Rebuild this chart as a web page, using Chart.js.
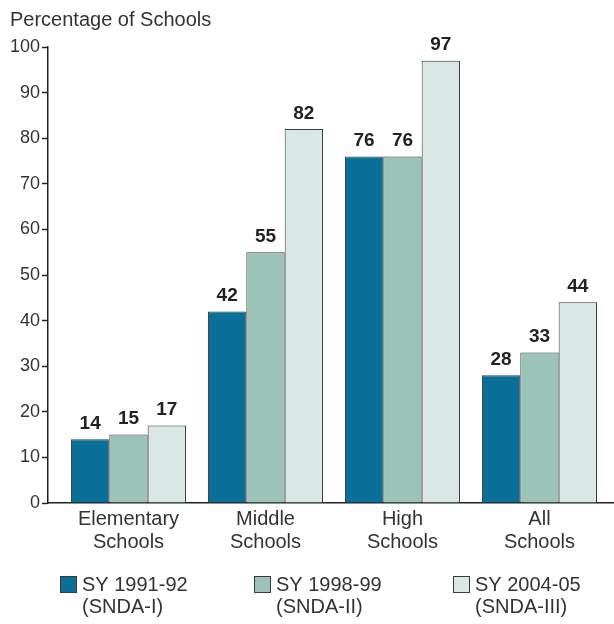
<!DOCTYPE html>
<html>
<head>
<meta charset="utf-8">
<script src="https://cdn.jsdelivr.net/npm/chart.js@4/dist/chart.umd.min.js"></script>
<style>
  html, body { margin: 0; padding: 0; background: #fff; }
  #wrap { width: 614px; height: 624px; position: relative; }
</style>
</head>
<body>
<div id="wrap"><canvas id="schoolsChart" width="614" height="624"></canvas></div>
<script>
// Données du graphique
const categories = [['Elementary', 'Schools'], ['Middle', 'Schools'], ['High', 'Schools'], ['All', 'Schools']];
const seriesNames = [['SY 1991-92', '(SNDA-I)'], ['SY 1998-99', '(SNDA-II)'], ['SY 2004-05', '(SNDA-III)']];
const snda1 = [14, 42, 76, 28];
const snda2 = [15, 55, 76, 33];
const snda3 = [17, 82, 97, 44];
const yTicks = [0, 10, 20, 30, 40, 50, 60, 70, 80, 90, 100];
const yTitle = 'Percentage of Schools';

const colors = ['#0b7099', '#9cc3b8', '#dae8e5'];
const FONT = '"Liberation Sans", Arial, Helvetica, sans-serif';

// Construction des jeux de données (x = index de catégorie)
const datasets = [snda1, snda2, snda3].map((values, i) => ({
    label: seriesNames[i].join(' '),
    data: values.map((v, j) => ({ x: j, y: v })),
    backgroundColor: colors[i],
    borderColor: '#3a3a3a',
    borderWidth: 1,
    barPercentage: 1,
    categoryPercentage: 0.84
}));

// Étiquettes de valeur au-dessus des barres
const valueLabels = {
    id: 'valueLabels',
    afterDatasetsDraw(chart) {
        const ctx = chart.ctx;
        ctx.save();
        ctx.font = 'bold 19px ' + FONT;
        ctx.fillStyle = '#222';
        ctx.textAlign = 'center';
        ctx.textBaseline = 'bottom';
        chart.data.datasets.forEach((ds, i) => {
            chart.getDatasetMeta(i).data.forEach((bar, j) => {
                ctx.fillText(String(ds.data[j].y), bar.x, bar.y - 6);
            });
        });
        ctx.restore();
    }
};

// Titre de l'axe y et légende sur deux lignes
const extras = {
    id: 'extras',
    afterDraw(chart) {
        const ctx = chart.ctx;
        ctx.save();
        ctx.fillStyle = '#333';
        ctx.font = '20px ' + FONT;
        ctx.textAlign = 'left';
        ctx.textBaseline = 'middle';
        ctx.fillText(yTitle, 10, 20);

        const boxX = [60, 254, 453];
        chart.data.datasets.forEach((ds, i) => {
            ctx.fillStyle = ds.backgroundColor;
            ctx.fillRect(boxX[i], 576, 17, 17);
            ctx.strokeStyle = '#3a3a3a';
            ctx.lineWidth = 1;
            ctx.strokeRect(boxX[i] + 0.5, 576.5, 16, 16);
            ctx.fillStyle = '#333';
            ctx.fillText(seriesNames[i][0], boxX[i] + 22, 585);
            ctx.fillText(seriesNames[i][1], boxX[i] + 22, 607);
        });
        ctx.restore();
    }
};

new Chart(document.getElementById('schoolsChart'), {
    type: 'bar',
    data: { datasets },
    options: {
        responsive: false,
        animation: false,
        layout: { padding: { top: 47, right: 0, bottom: 61, left: 0 } },
        plugins: {
            legend: { display: false },
            tooltip: { enabled: false }
        },
        scales: {
            x: {
                type: 'linear',
                offset: false,
                min: -0.5876,
                max: 3.544,
                afterBuildTicks: s => { s.ticks = categories.map((_, i) => ({ value: i })); },
                afterFit: s => { s.height = 60; },
                grid: { display: false, offset: false },
                border: { display: true, color: '#222', width: 1.5 },
                ticks: {
                    autoSkip: false,
                    maxRotation: 0,
                    padding: -3,
                    color: '#333',
                    font: { family: FONT, size: 20, lineHeight: 1.15 },
                    callback: v => categories[v]
                }
            },
            y: {
                min: 0,
                max: 100,
                afterBuildTicks: s => { s.ticks = yTicks.map(v => ({ value: v })); },
                afterFit: s => { s.width = 48; },
                grid: { drawOnChartArea: false, drawTicks: true, tickLength: 6, color: '#222', tickWidth: 1.5 },
                border: { display: true, color: '#222', width: 1.5 },
                ticks: {
                    padding: 2,
                    color: '#333',
                    font: { family: FONT, size: 18 }
                }
            }
        }
    },
    plugins: [valueLabels, extras]
});
</script>
</body>
</html>
